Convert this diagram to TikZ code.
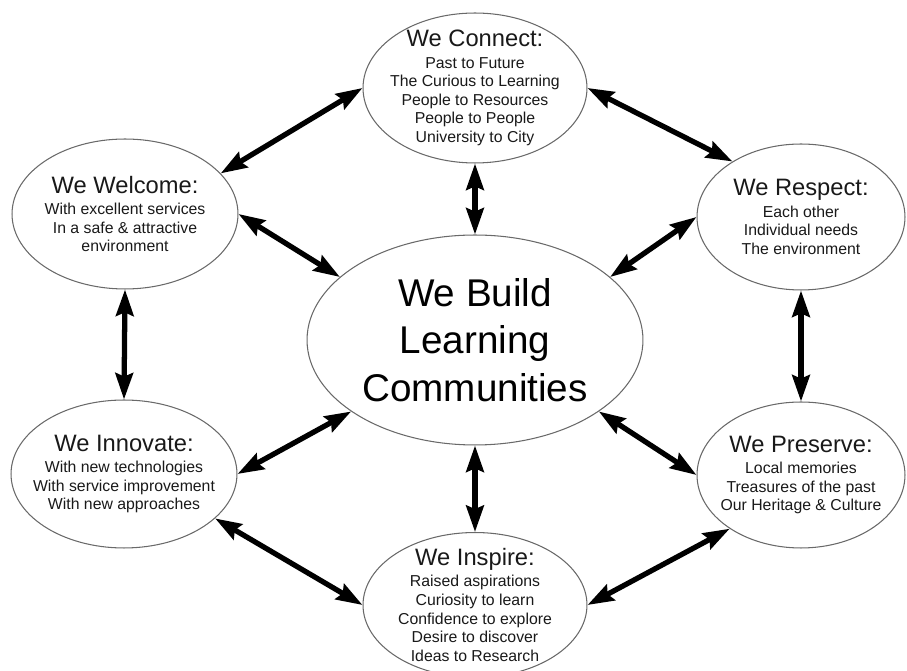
\documentclass[tikz,border=0pt]{standalone}
\usepackage{fontspec}
\setmainfont{Liberation Sans}
\usetikzlibrary{arrows.meta,shapes.geometric}
\definecolor{rimgray}{RGB}{105,105,105}
\definecolor{inkgray}{RGB}{25,25,25}
\tikzstyle{arrow} = [line width=3pt, {Stealth[length=15pt,width=10pt,inset=2pt]}-{Stealth[length=15pt,width=10pt,inset=2pt]}, color=black]
\tikzstyle{bubble} = [ellipse, draw=rimgray, line width=0.6pt, inner sep=0pt, minimum width=4.48cm, minimum height=3cm]
\tikzstyle{caption} = [align=center, text=inkgray, font=\fontsize{9}{10.6}\selectfont]
\newcommand{\heading}[1]{{\fontsize{13.5}{15}\selectfont #1}\\[1.5pt]}

\begin{document}
\begin{tikzpicture}[x=0.02cm, y=-0.02cm]
\useasboundingbox (0,0) rectangle (907,671);

% Ellipses
\node (hub) [bubble, minimum width=6.72cm, minimum height=4.2cm] at (475,340) {};
\node (connect) [bubble] at (475,88) {};
\node (welcome) [bubble, minimum width=4.52cm] at (125,214) {};
\node (respect) [bubble, minimum width=4.16cm, minimum height=2.92cm] at (801,217) {};
\node (innovate) [bubble, minimum width=4.52cm, minimum height=2.96cm] at (124,474) {};
\node (preserve) [bubble, minimum width=4.16cm, minimum height=2.92cm] at (801,475) {};
\node (inspire) [bubble, minimum height=2.9cm] at (475,605) {};

% Texts
\node (hub-text) [align=center, font=\fontsize{22}{27}\selectfont] at (hub) {We Build\\Learning\\Communities};
\node (connect-text) [caption] at (connect) {\heading{We Connect:}Past to Future\\The Curious to Learning\\People to Resources\\People to People\\University to City};
\node (welcome-text) [caption] at (welcome) {\heading{We Welcome:}With excellent services\\In a safe \& attractive\\environment};
\node (respect-text) [caption] at (respect) {\heading{We Respect:}Each other\\Individual needs\\The environment};
\node (innovate-text) [caption] at (innovate) {\heading{We Innovate:}With new technologies\\With service improvement\\With new approaches};
\node (preserve-text) [caption] at (preserve) {\heading{We Preserve:}Local memories\\Treasures of the past\\Our Heritage \& Culture};
\node (inspire-text) [caption] at (inspire) {\heading{We Inspire:}Raised aspirations\\Curiosity to learn\\Confidence to explore\\Desire to discover\\Ideas to Research};

% Arrows
\draw[arrow] (connect.180) -- (welcome.23);
\draw[arrow] (connect.0) -- (respect.141);
\draw[arrow] (connect.south) -- (hub.north);
\draw[arrow] (welcome.0) -- (hub.155);
\draw[arrow] (respect.180) -- (hub.25);
\draw[arrow] (welcome.south) -- (innovate.north);
\draw[arrow] (respect.south) -- (preserve.north);
\draw[arrow] (innovate.0) -- (hub.210);
\draw[arrow] (preserve.180) -- (hub.330);
\draw[arrow] (hub.south) -- (inspire.north);
\draw[arrow] (innovate.334) -- (inspire.180);
\draw[arrow] (preserve.217) -- (inspire.0);
\end{tikzpicture}
\end{document}
